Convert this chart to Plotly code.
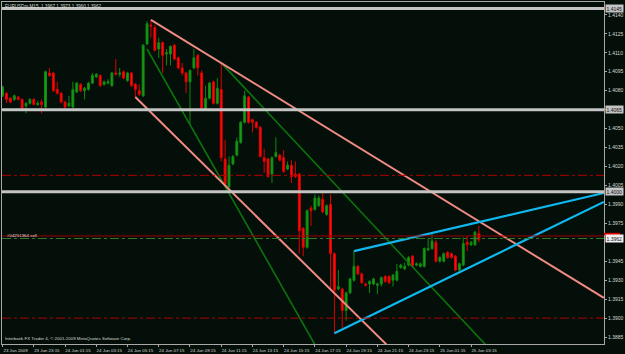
import pandas as pd
import plotly.graph_objects as go

# ---------------- data (EURUSDm, M15) ----------------
start_time = "2009-06-23 21:15"
open_ = [1.4076,1.4078,1.4074,1.4073,1.4075,1.4073,1.4068,1.4070,1.4073,1.4069,
         1.4071,1.4067,1.4094,1.4094,1.4081,1.4078,1.4071,1.4068,1.4067,1.4079,
         1.4085,1.4080,1.4081,1.4086,1.4091,1.4092,1.4085,1.4086,1.4084,1.4094,
         1.4093,1.4095,1.4088,1.4094,1.4085,1.4080,1.4076,1.4117,1.4132,1.4130,
         1.4113,1.4118,1.4109,1.4109,1.4116,1.4106,1.4098,1.4094,1.4087,1.4098,
         1.4108,1.4094,1.4065,1.4074,1.4087,1.4070,1.4081,1.4026,1.4004,1.4022,
         1.4029,1.4039,1.4055,1.4075,1.4057,1.4055,1.4051,1.4027,1.4026,1.4014,
         1.4028,1.4029,1.4027,1.4018,1.4021,1.4014,1.4014,1.3971,1.3956,1.3987,
         1.3986,1.3989,1.3994,1.3982,1.3990,1.3951,1.3923,1.3923,1.3906,1.3920,
         1.3930,1.3941,1.3935,1.3927,1.3927,1.3927,1.3926,1.3927,1.3933,1.3933,
         1.3930,1.3930,1.3940,1.3939,1.3942,1.3949,1.3942,1.3941,1.3941,1.3954,
         1.3955,1.3960,1.3945,1.3945,1.3952,1.3951,1.3949,1.3938,1.3942,1.3960,
         1.3958,1.3958,1.3967]
high = [1.4084,1.4079,1.4075,1.4077,1.4076,1.4074,1.4071,1.4074,1.4074,1.4072,
        1.4073,1.4096,1.4098,1.4095,1.4087,1.4079,1.4072,1.4076,1.4087,1.4087,
        1.4086,1.4083,1.4087,1.4094,1.4094,1.4093,1.4088,1.4089,1.4095,1.4105,
        1.4098,1.4096,1.4095,1.4095,1.4086,1.4085,1.4117,1.4135,1.4136,1.4132,
        1.4122,1.4119,1.4113,1.4116,1.4117,1.4107,1.4102,1.4095,1.4097,1.4113,
        1.4109,1.4096,1.4084,1.4087,1.4088,1.4090,1.4102,1.4041,1.4028,1.4029,
        1.4043,1.4056,1.4080,1.4076,1.4058,1.4056,1.4052,1.4034,1.4027,1.4028,
        1.4043,1.4030,1.4033,1.4024,1.4025,1.4024,1.4015,1.3972,1.3986,1.3989,
        1.3998,1.3997,1.3999,1.3990,1.3998,1.3952,1.3938,1.3924,1.3921,1.3932,
        1.3953,1.3942,1.3936,1.3928,1.3930,1.3932,1.3928,1.3933,1.3934,1.3934,
        1.3935,1.3943,1.3943,1.3944,1.3949,1.3950,1.3944,1.3944,1.3956,1.3963,
        1.3967,1.3962,1.3949,1.3952,1.3953,1.3952,1.3950,1.3944,1.3964,1.3965,
        1.3961,1.3969,1.3973]
low = [1.4075,1.4070,1.4070,1.4072,1.4073,1.4065,1.4062,1.4069,1.4069,1.4068,
       1.4062,1.4066,1.4091,1.4079,1.4077,1.4070,1.4066,1.4067,1.4066,1.4078,
       1.4079,1.4073,1.4080,1.4085,1.4090,1.4083,1.4084,1.4085,1.4083,1.4092,
       1.4091,1.4089,1.4087,1.4083,1.4075,1.4076,1.4075,1.4116,1.4122,1.4111,
       1.4106,1.4094,1.4100,1.4100,1.4104,1.4097,1.4092,1.4078,1.4053,1.4097,
       1.4092,1.4065,1.4064,1.4073,1.4069,1.4069,1.4024,1.4004,1.4003,1.4021,
       1.4028,1.4038,1.4054,1.4054,1.4047,1.4050,1.4027,1.4015,1.4011,1.4007,
       1.4027,1.4024,1.4015,1.4017,1.4007,1.4011,1.3951,1.3949,1.3955,1.3973,
       1.3985,1.3988,1.3983,1.3981,1.3923,1.3888,1.3922,1.3892,1.3898,1.3919,
       1.3929,1.3934,1.3927,1.3925,1.3920,1.3926,1.3919,1.3925,1.3928,1.3927,
       1.3925,1.3929,1.3939,1.3938,1.3941,1.3940,1.3941,1.3940,1.3940,1.3953,
       1.3954,1.3944,1.3944,1.3944,1.3947,1.3947,1.3937,1.3937,1.3941,1.3953,
       1.3957,1.3957,1.3960]
close = [1.4083,1.4073,1.4071,1.4076,1.4073,1.4066,1.4070,1.4073,1.4069,1.4070,
         1.4069,1.4095,1.4092,1.4080,1.4078,1.4071,1.4067,1.4070,1.4081,1.4086,
         1.4080,1.4082,1.4086,1.4092,1.4093,1.4084,1.4087,1.4087,1.4094,1.4093,
         1.4094,1.4090,1.4094,1.4084,1.4081,1.4077,1.4116,1.4133,1.4131,1.4112,
         1.4118,1.4108,1.4110,1.4115,1.4105,1.4098,1.4094,1.4087,1.4096,1.4106,
         1.4098,1.4066,1.4074,1.4086,1.4070,1.4082,1.4027,1.4006,1.4021,1.4028,
         1.4040,1.4055,1.4076,1.4055,1.4055,1.4051,1.4028,1.4024,1.4012,1.4027,
         1.4031,1.4025,1.4016,1.4021,1.4012,1.4012,1.3969,1.3956,1.3985,1.3985,
         1.3995,1.3995,1.3984,1.3989,1.3951,1.3922,1.3925,1.3906,1.3920,1.3931,
         1.3941,1.3935,1.3928,1.3926,1.3929,1.3931,1.3927,1.3932,1.3929,1.3928,
         1.3934,1.3937,1.3942,1.3941,1.3948,1.3941,1.3943,1.3943,1.3955,1.3955,
         1.3961,1.3945,1.3948,1.3951,1.3948,1.3948,1.3938,1.3943,1.3959,1.3958,
         1.3960,1.3968,1.3962]

# price axis labels (1.3960 sits under the bid-price box)
y_ticks = [1.4140,1.4125,1.4110,1.4095,1.4080,1.4065,1.4050,1.4035,1.4020,1.4005,
           1.3990,1.3975,1.3945,1.3930,1.3915,1.3900,1.3885]
# time axis labels
x_tick_times = ["2009-06-23 21:15","2009-06-23 23:15","2009-06-24 01:15","2009-06-24 03:15",
                "2009-06-24 05:15","2009-06-24 07:15","2009-06-24 09:15","2009-06-24 11:15",
                "2009-06-24 13:15","2009-06-24 15:15","2009-06-24 17:15","2009-06-24 19:15",
                "2009-06-24 21:15","2009-06-24 23:15","2009-06-25 01:15","2009-06-25 03:15"]
x_tick_text = ["23 Jun 2009","23 Jun 23:15","24 Jun 01:15","24 Jun 03:15","24 Jun 05:15",
               "24 Jun 07:15","24 Jun 09:15","24 Jun 11:15","24 Jun 13:15","24 Jun 15:15",
               "24 Jun 17:15","24 Jun 19:15","24 Jun 21:15","24 Jun 23:15","25 Jun 01:15",
               "25 Jun 03:15"]

# trend lines (two anchor points each: time, price)
pink_upper_t = ["2009-06-24 06:45", "2009-06-25 11:45"]
pink_upper_p = [1.4136, 1.3916]
pink_lower_t = ["2009-06-24 05:45", "2009-06-24 22:15"]
pink_lower_p = [1.4075, 1.3874]
green1_t = ["2009-06-24 06:30", "2009-06-24 17:15"]
green1_p = [1.4113, 1.3879]
green2_t = ["2009-06-24 11:15", "2009-06-25 04:15"]
green2_p = [1.4102, 1.3878]
blue_upper_t = ["2009-06-24 19:45", "2009-06-25 11:45"]
blue_upper_p = [1.3953, 1.3999]
blue_lower_t = ["2009-06-24 18:30", "2009-06-25 11:45"]
blue_lower_p = [1.3888, 1.3992]

# horizontal levels
grey_levels = [1.4145, 1.4065, 1.4000]
red_dashdot_levels = [1.4013, 1.3900]
red_solid_level = 1.3965
order_level = 1.3963
bid_price = 1.3962

# ---------------- figure ----------------
times = pd.date_range(start=start_time, periods=len(open_), freq="15min")

BG = "#030f08"
TXT = "#d8d8d8"
FONT = "Liberation Sans"

fig = go.Figure()
fig.add_trace(go.Candlestick(
    x=times, open=open_, high=high, low=low, close=close,
    increasing=dict(line=dict(color="#118a11", width=1), fillcolor="#1a9e1a"),
    decreasing=dict(line=dict(color="#e00000", width=1), fillcolor="#ff1010"),
    whiskerwidth=0, hoverinfo="skip", showlegend=False))

for lv in grey_levels:
    fig.add_hline(y=lv, line=dict(color="#c4c4c4", width=3))
for lv in red_dashdot_levels:
    fig.add_hline(y=lv, line=dict(color="#b00000", width=1, dash="dashdot"))
fig.add_hline(y=red_solid_level, line=dict(color="#a00000", width=1))
fig.add_hline(y=order_level, line=dict(color="#2c7a2c", width=1, dash="dashdot"))

def tline(t, p, color, width):
    fig.add_trace(go.Scatter(x=pd.to_datetime(t), y=p, mode="lines",
                             line=dict(color=color, width=width),
                             hoverinfo="skip", showlegend=False))

tline(green1_t, green1_p, "#0c740c", 1.6)
tline(green2_t, green2_p, "#0c740c", 1.6)
tline(pink_upper_t, pink_upper_p, "#f08a84", 2)
tline(pink_lower_t, pink_lower_p, "#f08a84", 2)
tline(blue_upper_t, blue_upper_p, "#10b8f0", 2.2)
tline(blue_lower_t, blue_lower_p, "#10b8f0", 2.2)

fig.update_layout(
    width=625, height=354,
    margin=dict(l=1, r=18, t=1, b=8),
    paper_bgcolor=BG, plot_bgcolor=BG,
    font=dict(family=FONT, color=TXT, size=5),
    boxgap=0.3,
    showlegend=False,
    xaxis=dict(
        type="date",
        range=["2009-06-23 21:12:45", "2009-06-25 11:45:45"],
        rangeslider=dict(visible=False),
        showgrid=False, zeroline=False,
        showline=True, mirror=True, linecolor="#a8a8a8", linewidth=1,
        tickmode="array", tickvals=pd.to_datetime(x_tick_times), ticktext=x_tick_text,
        ticks="outside", ticklen=2, tickcolor="#a8a8a8",
        ticklabelshift=13, ticklabelstandoff=0,
        tickfont=dict(size=4.4, color=TXT, family=FONT),
    ),
    yaxis=dict(
        side="right",
        range=[1.38795, 1.41502],
        showgrid=False, zeroline=False,
        showline=True, mirror=True, linecolor="#a8a8a8", linewidth=1,
        tickmode="array", tickvals=y_ticks, tickformat=".4f",
        ticks="outside", ticklen=2, tickcolor="#a8a8a8",
        ticklabelstandoff=0,
        tickfont=dict(size=5, color=TXT, family=FONT),
    ),
)

# level labels on price scale
for lv in grey_levels:
    fig.add_annotation(x=1, xref="paper", y=lv, yref="y", xanchor="left", yanchor="middle",
                       text=f"{lv:.4f}", showarrow=False, bgcolor="#c4c4c4",
                       font=dict(size=5, color="#101010", family=FONT), borderpad=0.5, xshift=1)
# red marker of the red solid level on the price scale
fig.add_shape(type="rect", xref="paper", yref="y", x0=1.0, x1=1.027,
              y0=red_solid_level + 0.00005, y1=red_solid_level + 0.00025,
              fillcolor="#e00000", line=dict(width=0), layer="above")
fig.add_annotation(x=1, xref="paper", y=bid_price, yref="y", xanchor="left", yanchor="middle",
                   text=f"{bid_price:.4f}", showarrow=False, bgcolor="#f0f0f0",
                   font=dict(size=5, color="#101010", family=FONT), borderpad=0.5, xshift=1, yshift=1)

# texts
fig.add_annotation(x=0, xref="paper", y=1, yref="paper", xanchor="left", yanchor="top",
                   text="EURUSDm,M15  1.3967 1.3973 1.3960 1.3962", showarrow=False,
                   font=dict(size=4.6, color=TXT, family=FONT), xshift=1, yshift=0)
fig.add_annotation(x=0, xref="paper", y=0, yref="paper", xanchor="left", yanchor="bottom",
                   text="Interbank FX Trader 4, © 2001-2009 MetaQuotes Software Corp.", showarrow=False,
                   font=dict(size=4.4, color=TXT, family=FONT), xshift=1, yshift=1)
fig.add_annotation(x=0, xref="paper", y=order_level, yref="y", xanchor="left", yanchor="bottom",
                   text="#04251364 sell", showarrow=False,
                   font=dict(size=4.4, color=TXT, family=FONT), xshift=3, yshift=-1)

fig.write_html("out.html")
